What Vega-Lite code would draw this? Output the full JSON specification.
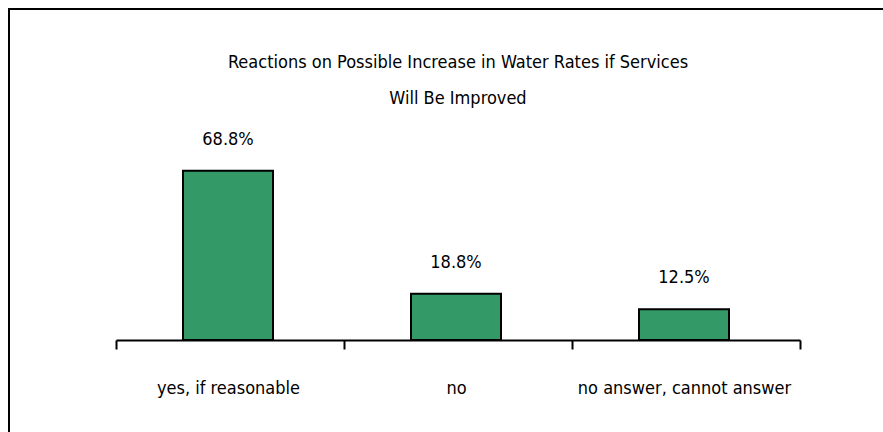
{
  "$schema": "https://vega.github.io/schema/vega-lite/v6.json",
  "autosize": {"type": "none"},
  "padding": {"left": 9, "top": 9, "right": 0, "bottom": 0},
  "width": 880,
  "height": 430,
  "background": "#ffffff",
  "title": {
    "text": ["Reactions on Possible Increase in Water Rates if Services", "Will Be Improved"],
    "anchor": "middle",
    "frame": "group",
    "baseline": "alphabetic",
    "offset": -113,
    "dx": 9,
    "lineHeight": 36,
    "font": "DejaVu Sans Condensed",
    "fontSize": 18,
    "fontWeight": "normal",
    "color": "#000000"
  },
  "config": {
    "view": {"stroke": "#000000", "strokeWidth": 2},
    "text": {"font": "DejaVu Sans Condensed"}
  },
  "data": {
    "values": [
      {"answer": "yes, if reasonable", "share": 0.688},
      {"answer": "no", "share": 0.188},
      {"answer": "no answer, cannot answer", "share": 0.125}
    ]
  },
  "encoding": {
    "x": {
      "field": "answer",
      "type": "nominal",
      "sort": null,
      "scale": {"range": [107, 791], "paddingInner": 0, "paddingOuter": 0},
      "axis": {
        "title": null,
        "orient": "bottom",
        "offset": -99,
        "tickBand": "extent",
        "labelAngle": 0,
        "domainColor": "#000000",
        "domainWidth": 2,
        "tickColor": "#000000",
        "tickWidth": 2,
        "tickSize": 9,
        "labelFont": "DejaVu Sans Condensed",
        "labelFontSize": 18,
        "labelColor": "#000000",
        "labelBaseline": "alphabetic",
        "labelPadding": 44,
        "labelOffset": -2,
        "labelLimit": 300
      }
    },
    "y": {
      "field": "share",
      "type": "quantitative",
      "scale": {"domain": [0, 1], "range": [331, 85], "nice": false},
      "axis": null
    }
  },
  "layer": [
    {
      "mark": {
        "type": "bar",
        "width": 90,
        "xOffset": -2,
        "fill": "#339966",
        "stroke": "#000000",
        "strokeWidth": 2
      }
    },
    {
      "mark": {
        "type": "text",
        "baseline": "alphabetic",
        "align": "center",
        "dy": -26,
        "xOffset": -2,
        "fontSize": 18,
        "color": "#000000"
      },
      "encoding": {
        "text": {"field": "share", "type": "quantitative", "format": ".1%"}
      }
    }
  ]
}
